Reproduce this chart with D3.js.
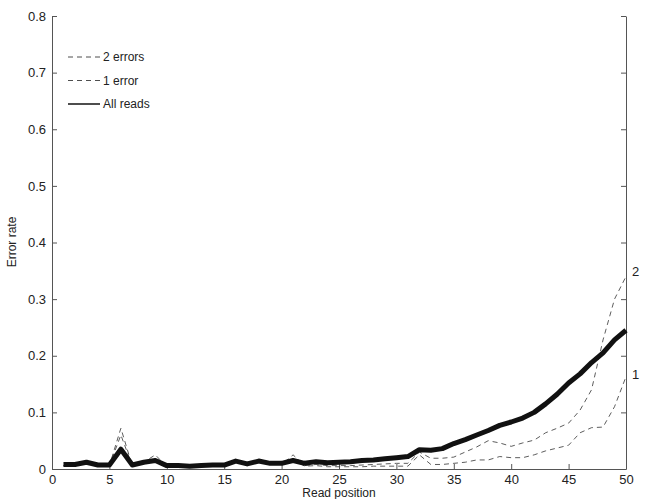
<!DOCTYPE html><html><head><script src="https://d3js.org/d3.v7.min.js"></script>
<style>body{margin:0;background:#fff}text{font-family:"Liberation Sans",Arial,sans-serif;font-size:12px;fill:#222}</style></head><body><svg width="649" height="499"></svg><script>
const positions=d3.range(1,51);
const allReads=[0.008,0.008,0.012,0.007,0.007,0.035,0.007,0.012,0.015,0.006,0.006,0.005,0.006,0.007,0.007,0.014,0.009,0.014,0.010,0.010,0.015,0.010,0.013,0.011,0.012,0.013,0.015,0.016,0.018,0.020,0.022,0.034,0.033,0.036,0.045,0.052,0.060,0.068,0.077,0.083,0.090,0.100,0.115,0.132,0.152,0.168,0.188,0.205,0.228,0.245];
const twoErr=[0.006,0.006,0.01,0.005,0.006,0.072,0.005,0.012,0.025,0.004,0.004,0.003,0.004,0.005,0.005,0.012,0.007,0.012,0.008,0.008,0.025,0.006,0.008,0.006,0.006,0.006,0.007,0.008,0.009,0.010,0.010,0.030,0.019,0.019,0.021,0.030,0.039,0.050,0.046,0.040,0.046,0.051,0.064,0.072,0.081,0.104,0.140,0.228,0.300,0.340];
const oneErr=[0.006,0.006,0.01,0.005,0.006,0.060,0.005,0.010,0.018,0.004,0.004,0.003,0.004,0.005,0.005,0.012,0.007,0.012,0.008,0.008,0.018,0.005,0.006,0.004,0.004,0.004,0.004,0.005,0.005,0.005,0.005,0.025,0.008,0.008,0.010,0.012,0.016,0.016,0.022,0.020,0.020,0.025,0.032,0.037,0.042,0.064,0.073,0.074,0.110,0.163];
const xTicks=[0,5,10,15,20,25,30,35,40,45,50];
const yTicks=[0,0.1,0.2,0.3,0.4,0.5,0.6,0.7,0.8];
const svg=d3.select("svg");
const x=d3.scaleLinear().domain([0,50]).range([52,626]);
const y=d3.scaleLinear().domain([0,0.8]).range([469,16]);
svg.append("g").attr("transform","translate(0,469)").call(d3.axisBottom(x).tickValues(xTicks).tickSizeInner(-5).tickSizeOuter(0).tickPadding(6));
svg.append("g").attr("transform","translate(52,0)").call(d3.axisLeft(y).tickValues(yTicks).tickFormat(d=>d===0?"0":d3.format(".1f")(d)).tickSizeInner(-5).tickSizeOuter(0).tickPadding(6));
svg.append("g").attr("transform","translate(626,0)").call(d3.axisRight(y).tickValues(yTicks).tickFormat("").tickSizeInner(-5).tickSizeOuter(0));
svg.selectAll(".domain").attr("stroke","#555");
svg.selectAll(".tick line").attr("stroke","#555");
svg.selectAll(".tick text").style("font-size","13px");
const line=d3.line().x((d,i)=>x(positions[i])).y(d=>y(d));
svg.append("path").datum(twoErr).attr("d",line).attr("fill","none").attr("stroke","#333").attr("stroke-width",0.8).attr("stroke-dasharray","5,4");
svg.append("path").datum(oneErr).attr("d",line).attr("fill","none").attr("stroke","#333").attr("stroke-width",0.8).attr("stroke-dasharray","5,4");
svg.append("path").datum(allReads).attr("d",line).attr("fill","none").attr("stroke","#111").attr("stroke-width",5).attr("stroke-linejoin","round");
const leg=[["2 errors","5,4",0.8],["1 error","5,4",0.8],["All reads",null,1.6]];
leg.forEach((l,i)=>{const yy=57+i*23.5;
 svg.append("line").attr("x1",68).attr("x2",100).attr("y1",yy).attr("y2",yy).attr("stroke","#222").attr("stroke-width",l[2]).attr("stroke-dasharray",l[1]);
 svg.append("text").attr("x",103).attr("y",yy+4).text(l[0]);});
svg.append("text").attr("x",632).attr("y",276).style("font-size","13px").text("2");
svg.append("text").attr("x",632).attr("y",379).style("font-size","13px").text("1");
svg.append("text").attr("transform","translate(16,242) rotate(-90)").attr("text-anchor","middle").text("Error rate");
svg.append("text").attr("x",339).attr("y",497).attr("text-anchor","middle").text("Read position");
</script></body></html>
